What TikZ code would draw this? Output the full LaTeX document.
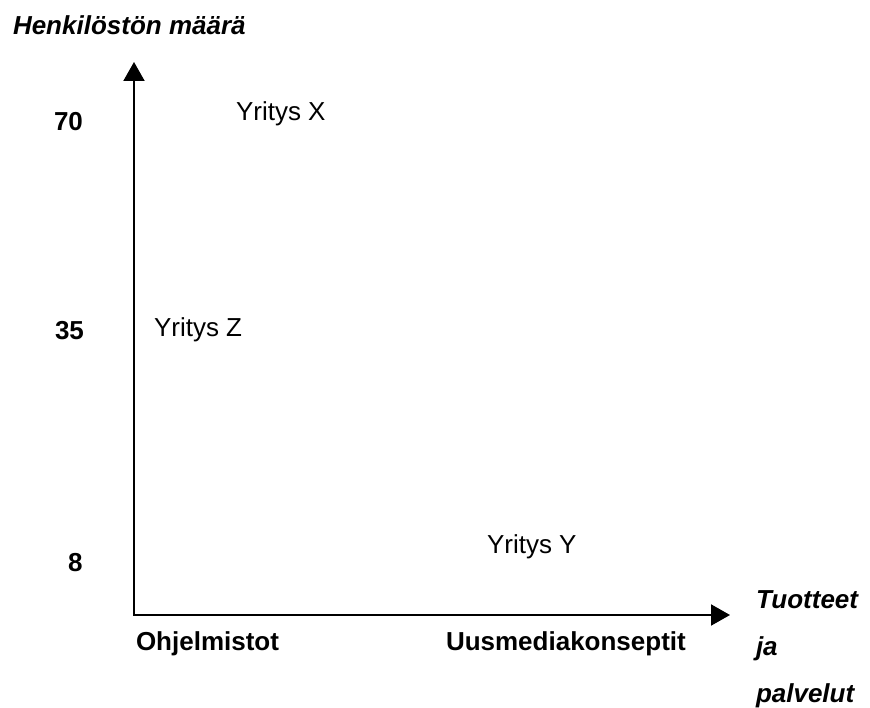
\documentclass[tikz,border=0pt]{standalone}
\usepackage{fontspec}
\setmainfont{Liberation Sans}
\usetikzlibrary{arrows.meta}
\begin{document}
\begin{tikzpicture}[x=1pt,y=-1pt,
  lbl/.style={anchor=base west,inner sep=0pt,outer sep=0pt,font=\fontsize{26}{31}\selectfont},
  blbl/.style={lbl,font=\fontsize{26}{31}\selectfont\bfseries},
  bilbl/.style={lbl,font=\fontsize{26}{31}\selectfont\bfseries\itshape},
  axis/.style={line width=2pt,{Triangle[width=21pt,length=19pt]}-{Triangle[width=21pt,length=19pt]}}]
\useasboundingbox (0,0) rectangle (870,708);
\coordinate (O) at (134,615);
\coordinate (ytip) at (134,62);
\coordinate (xtip) at (730,615);
\draw[axis] (ytip) -- (O) -- (xtip);
\node[bilbl] (ylab) at (13,35) {Henkilöstön määrä};
\node[blbl] (v70) at (54,131) {70};
\node[blbl] (v35) at (55,340) {35};
\node[blbl] (v8) at (68,571) {8};
\node[lbl] (yx) at (236,121) {Yritys X};
\node[lbl] (yz) at (154,337) {Yritys Z};
\node[lbl] (yy) at (487,553) {Yritys Y};
\node[blbl] (ohj) at (136,650) {Ohjelmistot};
\node[blbl] (uus) at (446,650) {Uusmediakonseptit};
\node[bilbl] (t1) at (756,608) {Tuotteet};
\node[bilbl] (t2) at (756,655) {ja};
\node[bilbl] (t3) at (756,702) {palvelut};
\end{tikzpicture}
\end{document}
